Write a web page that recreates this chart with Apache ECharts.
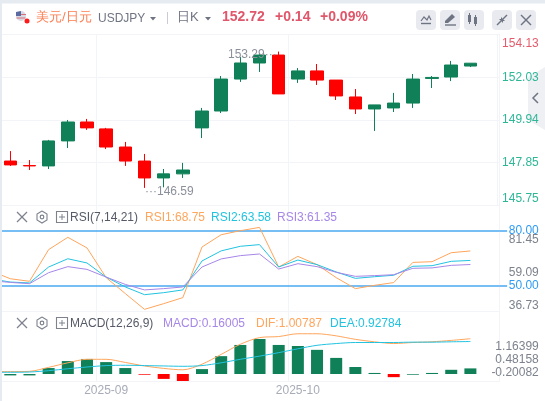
<!DOCTYPE html>
<html><head><meta charset="utf-8">
<style>html,body{margin:0;padding:0;background:#fff}#c{width:545px;height:401px}</style>
<script src="https://cdn.jsdelivr.net/npm/echarts@6/dist/echarts.min.js"></script>
</head><body><div id="c"></div>
<script>
// ---- data ----
const xLabels = ['','','','','','','2025-09','','','','','','','','','','2025-10','','','','','','','','','',''];
const opens  = [147.91,147.69,147.67,148.90,149.83,149.49,148.60,147.91,147.08,147.28,149.54,150.37,151.94,152.73,153.12,151.94,152.34,151.89,151.06,150.47,150.52,150.76,151.97,152.04,152.58];
const closes = [147.72,147.67,148.90,149.83,149.54,148.60,147.91,147.08,147.28,147.47,150.37,151.94,152.73,153.12,151.21,152.34,151.89,151.11,150.47,150.67,150.76,151.94,152.02,152.63,152.72];
const lows   = [147.67,147.47,147.52,148.55,149.44,148.50,147.67,146.59,146.62,147.08,149.04,150.27,151.80,152.29,151.21,151.75,151.65,150.91,150.22,149.39,150.32,150.52,151.50,151.84,152.53];
const highs  = [148.40,147.96,148.95,149.93,149.98,149.54,148.85,148.26,147.52,147.82,150.52,152.09,153.02,153.17,153.29,152.48,152.68,151.89,151.45,150.67,151.26,152.19,152.09,152.83,152.72];
const rsi1 = [57.8,53.6,52.2,69.5,76.2,70.4,54.2,45.5,36.9,40.0,43.3,70.9,77.6,79.8,81.6,60.0,65.8,61.3,54.2,48.2,50.0,51.5,62.5,62.9,67.8,68.75];
const rsi2 = [53.5,51.8,51.3,60.0,64.5,62.2,54.5,49.1,44.9,46.0,47.5,63.3,68.8,71.3,72.2,60.0,63.8,61.3,57.3,53.8,54.7,55.5,60.4,60.7,63.1,63.58];
const rsi3 = [52.5,51.6,50.9,56.9,60.2,58.7,54.5,50.5,47.5,48.2,49.1,60.0,64.4,66.2,67.1,58.9,61.8,60.2,57.1,54.9,55.3,55.8,59.3,59.5,60.9,61.35];
const dif  = [0.067,0.067,0.076,0.19,0.32,0.42,0.42,0.33,0.23,0.16,0.12,0.28,0.56,0.85,1.04,1.07,1.15,1.15,1.09,0.99,0.92,0.87,0.90,0.92,0.96,1.00787];
const dea  = [0.05,0.05,0.057,0.095,0.15,0.20,0.24,0.25,0.24,0.23,0.22,0.24,0.32,0.42,0.51,0.61,0.72,0.82,0.87,0.90,0.90,0.90,0.91,0.91,0.92,0.92784];
const macd = [-0.04,-0.04,0.17,0.37,0.43,0.34,0.17,-0.02,-0.14,-0.20,0.14,0.51,0.83,1.00,0.83,0.80,0.69,0.46,0.20,0.03,-0.09,-0.02,0.03,0.12,0.16005];
const macdRedIdx = [7,8,9,20];
const priceTicks = [145.75,147.85,149.94,152.03,154.13];
const rsiLevels = [50,80];
const rsiTicks = [36.73,59.09,81.45];
const macdTicks = [-0.20082,0.48158,1.16399];

const GREEN='#0f8058', RED='#ff0000', ORANGE='#ffa55c', CYAN='#22c3e0', PURPLE='#a687e8', BLUE='#4aa8f2';
const GRID='#f3f4f7', GREY='#7d828d';
const gridX = {left:-18.45, width:517.6, outerBoundsMode:'none', containLabel:false};
const FONT='"Liberation Sans",Arial,sans-serif';

const candles = [null].concat(opens.map((o,i)=>[o,closes[i],lows[i],highs[i]]),[null]).map(d=>d||'-');

const grids = [
 {...gridX, top:34, height:347},
 {...gridX, top:34.5, height:170.5},
 {...gridX, top:212, height:110},
 {...gridX, top:234, height:77.5},
 {...gridX, top:304, height:105},
 {...gridX, top:341, height:38}
];
const xBase = {type:'category',data:xLabels,axisTick:{show:false},axisLabel:{show:false},splitLine:{show:false},axisLine:{show:false}};
const xAxes = grids.map((g,i)=>({...xBase,gridIndex:i}));
xAxes[0] = {...xBase,gridIndex:0,
  axisLine:{show:true,lineStyle:{color:GRID}},
  axisLabel:{show:true,interval:0,color:'#a8acb8',fontSize:12,fontFamily:FONT,margin:3,lineHeight:14,padding:[0,0,0,0],verticalAlign:'top'},
  splitLine:{show:true,interval:(i,v)=>v!=='',lineStyle:{color:GRID,width:1}}};
xAxes[1] = {...xBase,gridIndex:1,axisLine:{show:true,onZero:false,lineStyle:{color:GRID}}};
xAxes[3] = {...xBase,gridIndex:3,axisLine:{show:true,onZero:false,lineStyle:{color:GRID}}};

const yHidden = {type:'value',position:'right',axisLabel:{show:false},axisTick:{show:false},axisLine:{show:false},splitLine:{show:false}};
const yAxes = [
 {...yHidden,gridIndex:0,min:0,max:1},
 {type:'value',gridIndex:1,position:'right',offset:-1.7,z:3,min:priceTicks[0],max:priceTicks[4],
  axisLine:{show:true,lineStyle:{color:GRID}},
  axisTick:{show:false,customValues:priceTicks},
  splitLine:{show:true,lineStyle:{color:GRID,width:1}},
  axisLabel:{customValues:priceTicks,align:'right',margin:41.3,fontSize:12,fontFamily:FONT,padding:[3,0,0,0],
    verticalAlignMinLabel:'bottom',verticalAlignMaxLabel:'top',showMinLabel:true,showMaxLabel:true,
    formatter:v=>v.toFixed(2),
    color:v=>v>=priceTicks[4]?'#e45b6c':'#2db797'}},
 {type:'value',gridIndex:2,position:'right',z:3,min:30,max:90,
  axisLine:{show:false},
  axisTick:{show:true,customValues:rsiLevels,length:8,lineStyle:{color:BLUE,width:1.5}},
  splitLine:{show:true,lineStyle:{color:BLUE,width:1.5}},
  axisLabel:{customValues:rsiLevels,align:'right',margin:39.6,fontSize:12,fontFamily:FONT,color:'#2e9bf5',formatter:v=>v.toFixed(2)}},
 {type:'value',gridIndex:3,position:'right',z:2,min:rsiTicks[0],max:rsiTicks[2],
  axisLine:{show:false},axisTick:{show:false,customValues:rsiTicks},splitLine:{show:false},
  axisLabel:{customValues:rsiTicks,align:'right',margin:39.6,fontSize:12,fontFamily:FONT,color:GREY,
    verticalAlignMinLabel:'bottom',verticalAlignMaxLabel:'top',formatter:v=>v.toFixed(2)}},
 {...yHidden,gridIndex:4,min:-1,max:2},
 {type:'value',gridIndex:5,position:'right',z:2,min:macdTicks[0],max:macdTicks[2],
  axisLine:{show:false},axisTick:{show:false,customValues:macdTicks},splitLine:{show:false},
  axisLabel:{customValues:macdTicks,align:'right',margin:39.6,fontSize:12,fontFamily:FONT,color:GREY,
    verticalAlignMinLabel:'bottom',verticalAlignMaxLabel:'top',formatter:v=>v.toFixed(5)}}
];

const rsiLine=(name,d,c)=>({name,type:'line',xAxisIndex:2,yAxisIndex:2,data:d,symbol:'none',z:4,silent:true,lineStyle:{color:c,width:1}});
const macdLine=(name,d,c)=>({name,type:'line',xAxisIndex:4,yAxisIndex:4,data:d,symbol:'none',smooth:0.3,z:4,silent:true,lineStyle:{color:c,width:1}});

const maxI=highs.indexOf(Math.max(...highs)), minI=lows.indexOf(Math.min(...lows));
const ptLabel={show:true,color:'#8c909b',fontSize:12,fontFamily:FONT};
const series=[
 {type:'candlestick',xAxisIndex:1,yAxisIndex:1,data:candles,barWidth:13,z:3,
  itemStyle:{color:GREEN,color0:RED,borderColor:GREEN,borderColor0:RED,borderWidth:1},
  markPoint:{symbol:'circle',symbolSize:1,itemStyle:{color:'rgba(0,0,0,0)'},silent:true,data:[
    {coord:[maxI+1,highs[maxI]],label:{...ptLabel,position:'left',distance:0,offset:[-1.5,3],formatter:highs[maxI].toFixed(2)+'···'}},
    {coord:[minI+1,lows[minI]],label:{...ptLabel,position:'right',distance:0,offset:[0,4],formatter:'···'+lows[minI].toFixed(2)}}
  ]}},
 rsiLine('RSI1',rsi1,ORANGE),rsiLine('RSI2',rsi2,CYAN),rsiLine('RSI3',rsi3,PURPLE),
 {type:'bar',xAxisIndex:4,yAxisIndex:4,barWidth:12,z:3,
  data:[null].concat(macd.map((v,i)=>({value:v,itemStyle:{color:macdRedIdx.includes(i)?RED:GREEN}})))},
 macdLine('DIF',dif,ORANGE),macdLine('DEA',dea,CYAN)
];

// ---- page furniture ----
const ICON='#6f7482', Z=50;
const rect=(x,y,w,h,fill,r,z)=>({type:'rect',z:z||Z,silent:true,shape:{x,y,width:w,height:h,r:r||0},style:{fill}});
const line=(a,b,c,d,col,w)=>({type:'line',z:Z+1,silent:true,shape:{x1:a,y1:b,x2:c,y2:d},style:{stroke:col||ICON,lineWidth:w||1.4}});
const poly=(pts,fill,z)=>({type:'polygon',z:z||Z+1,silent:true,shape:{points:pts},style:{fill}});
const pl=(pts,col,w)=>({type:'polyline',z:Z+1,silent:true,shape:{points:pts},style:{stroke:col||ICON,lineWidth:w||1.2,fill:'none'}});
const txt=(x,y,t,fill,size,weight)=>({type:'text',z:Z+1,silent:true,x,y,style:{text:t,fill,font:(weight||'normal')+' '+(size||12)+'px '+FONT,verticalAlign:'middle',textAlign:'left'}});
const circ=(x,y,r,fill,stroke)=>({type:'circle',z:Z+1,silent:true,shape:{cx:x,cy:y,r},style:{fill,stroke:stroke||'none',lineWidth:1.2}});
const tool=x=>rect(x,10,20,20,'#e8eaf0',4);
const hdrIcons=(y)=>[
  line(17,y-5,27,y+5,GREY,1.2),line(27,y-5,17,y+5,GREY,1.2),
  pl([[42,y-6],[47,y-3],[47,y+3],[42,y+6],[37,y+3],[37,y-3],[42,y-6]],GREY,1.1),
  circ(42,y,1.8,'none',GREY),
  {type:'rect',z:Z+1,silent:true,shape:{x:56.5,y:y-5.5,width:11,height:11},style:{fill:'none',stroke:GREY,lineWidth:1.1}},
  line(62,y-3,62,y+3,GREY,1),line(59,y,65,y,GREY,1)
];
const graphic={elements:[
  rect(0,0,545,3.5,'#e6ebf2',0),
  rect(0,0,2,401,'#e6ebf2',0),
  poly([[545,67],[528,77],[528,120],[545,130]],'#eff0f4',1),
  pl([[538,93],[533,98],[538,103]],'#6f7482',1.5),
  // flag
  circ(21,16,5,'#d9d9e2'),poly([[16,12],[21,11],[21,16],[16,16]],'#5b6aa0'),line(21,14.5,26,14.5,'#d9707a',1),line(16.5,18,25.5,18,'#d9707a',1),circ(27,21,2.5,'#ff1a1a'),
  txt(36,17.5,'美元/日元','#ff7d52',13.3),
  txt(98,19,'USDJPY','#6f7482',12),
  poly([[150,17],[156,17],[153,20.5]],'#6f7482'),
  line(167.5,12,167.5,24,'#c9ccd4',1),
  txt(177,17.5,'日K','#6f7482',13),
  poly([[205,17],[211,17],[208,20.5]],'#6f7482'),
  txt(222,17.5,'152.72','#e0566a',14,'bold'),
  txt(275,17.5,'+0.14','#e0566a',14,'bold'),
  txt(320,17.5,'+0.09%','#e0566a',14,'bold'),
  tool(416),tool(440),tool(464),tool(492),tool(516),
  pl([[421,21],[424,17],[427,20],[429,16],[431,20]]),line(421,23.5,431,23.5),
  poly([[445,21],[452,14],[455,17],[448,23],[445,23]],ICON),line(445,25,456,25),
  rect(468,15,3,7,ICON,0,Z+1),line(469.5,13,469.5,24,ICON,1),rect(474,17,3,7,ICON,0,Z+1),line(475.5,15,475.5,26,ICON,1),
  line(497,25,501,21),line(507,15,503,19),poly([[499,19],[503,19],[503,23]],ICON),poly([[505,21],[501,21],[501,17]],ICON),
  line(521,15,531,25),line(531,15,521,25),
  // indicator headers
  ...hdrIcons(217),
  txt(70,217.5,'RSI(7,14,21)','#555a66',12),
  txt(145,217.5,'RSI1:68.75',ORANGE,12),
  txt(211,217.5,'RSI2:63.58',CYAN,12),
  txt(277,217.5,'RSI3:61.35',PURPLE,12),
  ...hdrIcons(323),
  txt(70,323.5,'MACD(12,26,9)','#555a66',12),
  txt(163,323.5,'MACD:0.16005',PURPLE,12),
  txt(256,323.5,'DIF:1.00787',ORANGE,12),
  txt(330,323.5,'DEA:0.92784',CYAN,12)
]};

const chart=echarts.init(document.getElementById('c'),null,{renderer:'canvas'});
chart.setOption({animation:false,backgroundColor:'#fff',tooltip:{show:false},legend:{show:false},
  grid:grids,xAxis:xAxes,yAxis:yAxes,series,graphic});
</script></body></html>
